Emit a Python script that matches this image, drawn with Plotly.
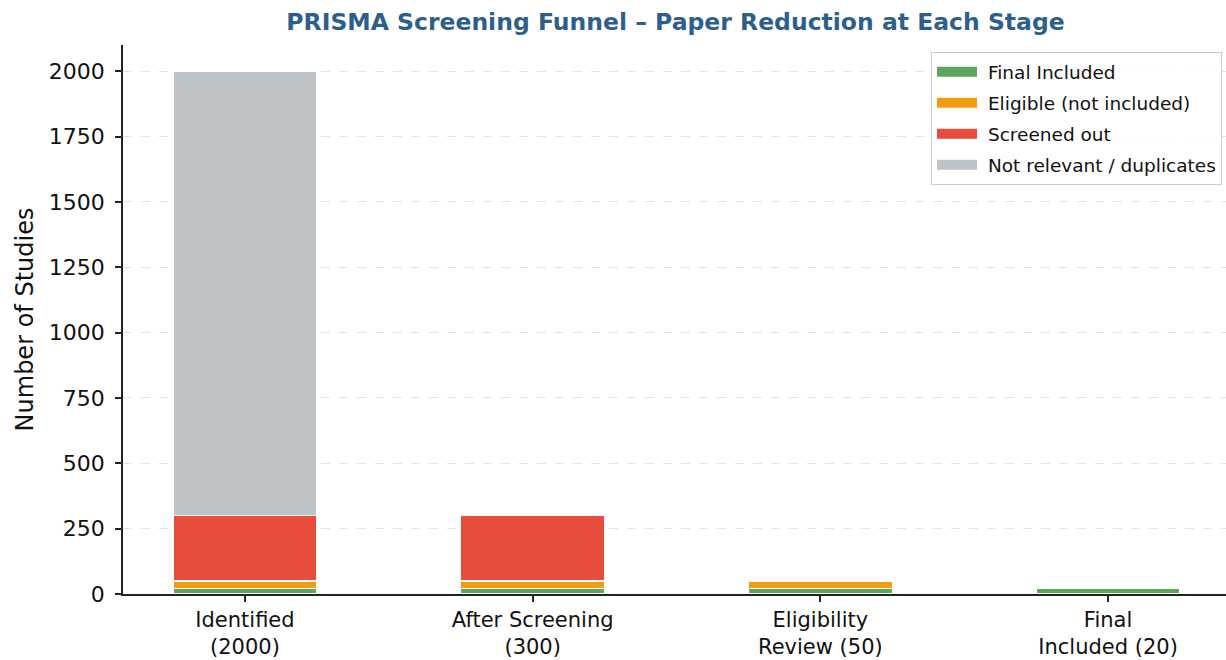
import plotly.graph_objects as go

stages = ["Identified<br>(2000)", "After Screening<br>(300)", "Eligibility<br>Review (50)", "Final<br>Included (20)"]
final_included = [20, 20, 20, 20]
eligible_not_included = [30, 30, 30, 0]
screened_out = [250, 250, 0, 0]
not_relevant = [1700, 0, 0, 0]

series = [
    ("Final Included", final_included, "#5aa65a"),
    ("Eligible (not included)", eligible_not_included, "#f39c12"),
    ("Screened out", screened_out, "#e74c3c"),
    ("Not relevant / duplicates", not_relevant, "#bdc3c7"),
]

x = list(range(len(stages)))
fig = go.Figure()
for name, vals, color in series:
    fig.add_trace(go.Bar(
        x=x, y=vals, name=name, width=0.5, showlegend=False,
        legendgroup=name,
        marker=dict(color=color, line=dict(color="white", width=1.2)),
    ))
# legend-only entries drawn as wide patches like the reference
for name, vals, color in series:
    fig.add_trace(go.Scatter(
        x=[None], y=[None], mode="lines", name="\u00a0" + name, legendgroup=name,
        line=dict(color=color, width=11), hoverinfo="skip",
    ))

font_family = "DejaVu Sans"
fig.update_layout(
    barmode="stack",
    width=1226, height=660,
    margin=dict(l=123, r=0, t=45, b=66),
    plot_bgcolor="white", paper_bgcolor="white",
    font=dict(family=font_family, color="#222"),
    title=dict(text="<b>PRISMA Screening Funnel – Paper Reduction at Each Stage</b>",
               x=0.551, xanchor="center", y=1 - 22 / 660, yanchor="middle",
               font=dict(size=23.5, color="#2e5f8a", family=font_family)),
    legend=dict(x=0.9964, xanchor="right", y=0.987, yanchor="top",
                traceorder="grouped", bgcolor="rgba(255,255,255,0.9)",
                bordercolor="#cccccc", borderwidth=1, tracegroupgap=4,
                itemwidth=40,
                font=dict(size=18.5, family=font_family, color="#111")),
    showlegend=True,
)
fig.update_xaxes(
    range=[-0.424, 3.41], tickvals=x, ticktext=stages,
    showline=True, linecolor="#222", linewidth=1.5,
    ticks="outside", ticklen=6, tickcolor="#222", tickwidth=1.5,
    tickfont=dict(size=21, family=font_family, color="#111"),
    showgrid=False, zeroline=False,
)
fig.update_yaxes(
    range=[0, 2100], tickvals=[0, 250, 500, 750, 1000, 1250, 1500, 1750, 2000],
    showline=True, linecolor="#222", linewidth=1.5,
    ticks="outside", ticklen=6, tickcolor="#222", tickwidth=1.5,
    ticklabelstandoff=6,
    tickfont=dict(size=22, family=font_family, color="#111"),
    showgrid=True, gridcolor="#e3e3e3", griddash="dash", gridwidth=1.2,
    zeroline=False,
    title=dict(text="Number of Studies", font=dict(size=24, family=font_family, color="#111"), standoff=8),
)
fig.write_html("out.html", config={"displayModeBar": False},
               post_script="document.body.style.margin='0';")
